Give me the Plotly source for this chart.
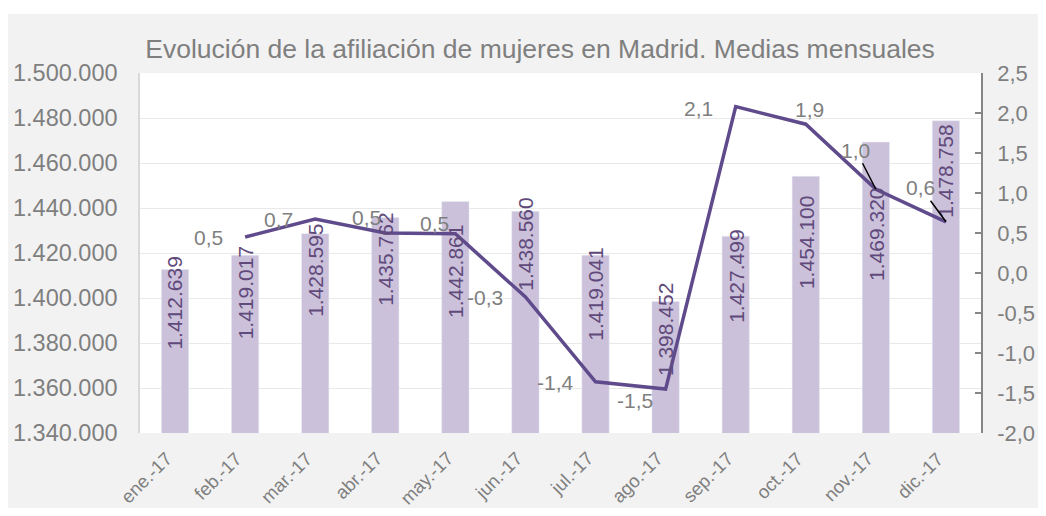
import plotly.graph_objects as go

# monthly averages, women affiliated in Madrid (2017)
meses = ['ene.-17', 'feb.-17', 'mar.-17', 'abr.-17', 'may.-17', 'jun.-17',
         'jul.-17', 'ago.-17', 'sep.-17', 'oct.-17', 'nov.-17', 'dic.-17']
afiliadas = [1412639, 1419017, 1428595, 1435762, 1442861, 1438560,
             1419041, 1398452, 1427499, 1454100, 1469320, 1478758]
# monthly change in %, first month has no previous value
variacion = [None, 0.45, 0.675, 0.50, 0.49, -0.30,
             -1.36, -1.451, 2.08, 1.86, 1.047, 0.64]

left_ticks = [1340000 + 20000 * i for i in range(9)]
right_ticks = [-2.0 + 0.5 * i for i in range(10)]


def es_num(v, dec):
    # spanish style number, plain hyphen for negatives
    s = f'{v:,.{dec}f}'
    return s.replace(',', '_').replace('.', ',').replace('_', '.')


GRAY = '#7f7f7f'
BAR = '#ccc1da'
LINE = '#5f4b8b'
FONT = 'Arial, Liberation Sans, sans-serif'

# the page body adds 8px around the figure, so the figure is 16px smaller
W, H = 1030, 500
L, R, T, B = 132, 57, 65, 75
PW, PH = W - L - R, H - T - B

# how far (px) each bar label centre sits below the bar top
bar_label_drop = [34, 38, 37, 42, 70, 33, 39, 28, 40, 66, 92, 50]
# label centre offset (px) from each line point
line_label_off = [None, (-37, 0), (-37, 0), (-19, -16), (-21, -10), (-40, 0),
                  (-40, 1), (-31, 11), (-37, 2), (4, -15), (-20, -39), (-25, -34)]
leader = {10, 11}

fig = go.Figure()
fig.add_trace(go.Bar(x=meses, y=afiliadas, marker_color=BAR, width=0.39,
                     yaxis='y', hoverinfo='skip'))
fig.add_trace(go.Scatter(x=meses, y=variacion, mode='lines', yaxis='y2',
                         line=dict(color=LINE, width=3.5), hoverinfo='skip'))

annotations = []
# month labels, slanted, right end just under each category
for m in meses:
    annotations.append(dict(x=m, y=0, xref='x', yref='paper', showarrow=False,
                            text=m, textangle=-45, xanchor='right', yanchor='top',
                            xshift=4, yshift=-12,
                            font=dict(size=18.5, color=GRAY, family=FONT)))
for m, v, d in zip(meses, afiliadas, bar_label_drop):
    annotations.append(dict(x=m, y=v, xref='x', yref='y', showarrow=False,
                            text=es_num(v, 0), textangle=-90,
                            yanchor='middle', xanchor='center', yshift=-d,
                            font=dict(size=21, color='#604a7b', family=FONT)))
for i, (m, v, off) in enumerate(zip(meses, variacion, line_label_off)):
    if v is None:
        continue
    annotations.append(dict(x=m, y=v, xref='x', yref='y2', showarrow=True,
                            ax=off[0], ay=off[1], arrowhead=0, standoff=0,
                            arrowwidth=1.5,
                            arrowcolor='black' if i in leader else 'rgba(0,0,0,0)',
                            text=es_num(v, 1),
                            font=dict(size=21, color=GRAY, family=FONT)))

fig.update_layout(
    width=W, height=H,
    margin=dict(l=L, r=R, t=T, b=B, pad=0),
    paper_bgcolor='white', plot_bgcolor='white',
    showlegend=False,
    font=dict(family=FONT, color=GRAY),
    title=dict(text='Evolución de la afiliación de mujeres en Madrid. Medias mensuales',
               xref='container', yref='container', x=532 / W, y=1 - 41 / H,
               xanchor='center', yanchor='middle',
               font=dict(size=26.5, color=GRAY, family=FONT)),
    xaxis=dict(range=[-0.5, len(meses) - 0.5], showticklabels=False, ticks='',
               showgrid=False, showline=False, automargin=False),
    yaxis=dict(range=[1340000, 1500000], tickvals=left_ticks,
               ticktext=[es_num(t, 0) for t in left_ticks],
               tickfont=dict(size=23.5, color=GRAY),
               ticks='outside', ticklen=16, tickcolor='rgba(0,0,0,0)',
               showgrid=True, gridcolor='#e9e9e9', gridwidth=1, automargin=False,
               showline=True, linecolor='#d9d9d9', linewidth=1.5, zeroline=False),
    yaxis2=dict(range=[-2, 2.5], tickvals=right_ticks,
                ticktext=[es_num(t, 1) for t in right_ticks],
                overlaying='y', side='right', automargin=False,
                tickfont=dict(size=22, color=GRAY),
                ticks='inside', ticklen=6, tickcolor='#868686', tickwidth=1.5,
                ticklabelstandoff=10,
                showgrid=False, showline=True, linecolor='#868686', linewidth=1.5,
                zeroline=False),
    annotations=annotations,
    shapes=[
        dict(type='rect', xref='paper', yref='paper', layer='below',
             x0=-L / PW, x1=(1032 - L) / PW, y0=-0.3, y1=(PH + T - 6) / PH,
             fillcolor='#f2f2f2', line_width=0),
        dict(type='rect', xref='paper', yref='paper', layer='below',
             x0=0, x1=1, y0=0, y1=1, fillcolor='white', line_width=0),
    ],
)

fig.write_html('out.html')
